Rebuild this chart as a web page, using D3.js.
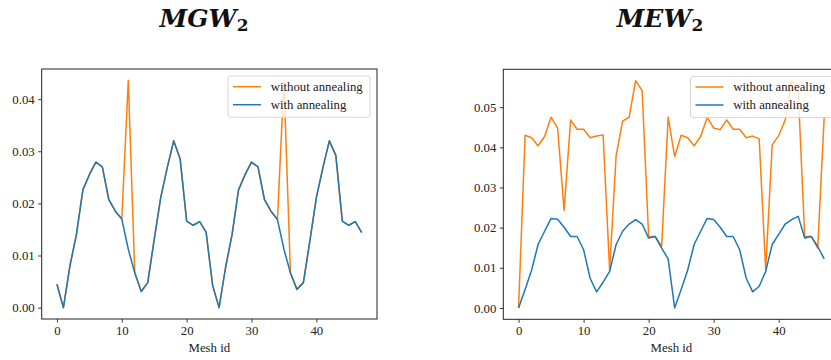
<!DOCTYPE html>
<html>
<head>
<meta charset="utf-8">
<script src="https://cdn.jsdelivr.net/npm/d3@7"></script>
<style>
  body { margin: 0; background: #fff; }
  svg { display: block; }
  .tick text { font-family: "Liberation Serif", "Times New Roman", serif; }
</style>
</head>
<body>
<div id="chart"></div>
<script>
// Mesh ids on the x axis
const meshIds = [
  0, 1, 2, 3, 4, 5, 6, 7, 8, 9, 10, 11, 12, 13, 14, 15, 16, 17, 18, 19, 20, 21, 22, 23,
  24, 25, 26, 27, 28, 29, 30, 31, 32, 33, 34, 35, 36, 37, 38, 39, 40, 41, 42, 43, 44, 45, 46, 47,
];

// MGW_2 panel
const mgwWithout = [
  0.0045, 0.0, 0.008, 0.014, 0.0226, 0.0255, 0.0279, 0.027, 0.0207, 0.0185, 0.017, 0.0436,
  0.0067, 0.0031, 0.0048, 0.0131, 0.0211, 0.0268, 0.032, 0.0285, 0.0166, 0.0158, 0.0165, 0.0145,
  0.0043, 0.0, 0.0077, 0.014, 0.0226, 0.0255, 0.0279, 0.027, 0.0207, 0.0185, 0.0169, 0.0436,
  0.0067, 0.0035, 0.0048, 0.0128, 0.0211, 0.0268, 0.032, 0.0292, 0.0166, 0.0158, 0.0165, 0.0144,
];
const mgwWith = [
  0.0045, 0.0, 0.008, 0.014, 0.0226, 0.0255, 0.0279, 0.027, 0.0207, 0.0185, 0.017, 0.0112,
  0.0067, 0.0031, 0.0048, 0.0131, 0.0211, 0.0268, 0.032, 0.0285, 0.0166, 0.0158, 0.0165, 0.0145,
  0.0043, 0.0, 0.0077, 0.014, 0.0226, 0.0255, 0.0279, 0.027, 0.0207, 0.0185, 0.0169, 0.0112,
  0.0067, 0.0035, 0.0048, 0.0128, 0.0211, 0.0268, 0.032, 0.0292, 0.0166, 0.0158, 0.0165, 0.0144,
];

// MEW_2 panel
const mewWithout = [
  0.0, 0.043, 0.0424, 0.0404, 0.0427, 0.0475, 0.0448, 0.0243, 0.0468, 0.0445, 0.0445, 0.0424,
  0.0428, 0.0431, 0.0095, 0.0379, 0.0465, 0.0475, 0.0566, 0.0541, 0.0178, 0.0178, 0.0153, 0.0475,
  0.0377, 0.043, 0.0424, 0.0404, 0.0427, 0.0475, 0.0448, 0.0444, 0.0468, 0.0445, 0.0445, 0.0424,
  0.0428, 0.0421, 0.0095, 0.0406, 0.0429, 0.0468, 0.0566, 0.0541, 0.0178, 0.0178, 0.0149, 0.0476,
];
const mewWith = [
  0.0, 0.0046, 0.0094, 0.0158, 0.0191, 0.0223, 0.0221, 0.0201, 0.0178, 0.0178, 0.0145, 0.0074,
  0.004, 0.0064, 0.0091, 0.0158, 0.0191, 0.0209, 0.022, 0.0209, 0.0174, 0.0178, 0.0149, 0.0122,
  0.0, 0.0046, 0.0094, 0.0158, 0.0191, 0.0223, 0.022, 0.0201, 0.0178, 0.0178, 0.0145, 0.0074,
  0.004, 0.0054, 0.0091, 0.0158, 0.0183, 0.0209, 0.022, 0.0228, 0.0174, 0.0178, 0.0153, 0.0122,
];

const xTicks = [0, 10, 20, 30, 40];
const mgwTicks = [0.0, 0.01, 0.02, 0.03, 0.04];
const mewTicks = [0.0, 0.01, 0.02, 0.03, 0.04, 0.05];
const seriesNames = ["without annealing", "with annealing"];
const seriesColors = ["#ff7f0e", "#1f77b4"];

class MeshErrorChart {
  constructor() {
    this.width = 831;
    this.height = 360;
    this.font = "'Liberation Serif', 'Times New Roman', serif";

    this.svg = d3
      .select("#chart")
      .append("svg")
      .attr("width", this.width)
      .attr("height", this.height)
      .style("background-color", "#ffffff");

    this.drawPanel({
      left: 41.7, right: 377, top: 69, bottom: 319,
      titleX: 204, name: "MGW",
      series: [mgwWithout, mgwWith], yTicks: mgwTicks,
    });
    this.drawPanel({
      left: 503.3, right: 839.5, top: 69.3, bottom: 319.3,
      titleX: 660, name: "MEW",
      series: [mewWithout, mewWith], yTicks: mewTicks,
    });
  }

  drawPanel(p) {
    const g = this.svg.append("g");

    // matplotlib style 5% padding around the data
    const xPad = (d3.max(meshIds) - d3.min(meshIds)) * 0.05;
    const allY = p.series.flat();
    const yPad = (d3.max(allY) - d3.min(allY)) * 0.05;

    const x = d3
      .scaleLinear()
      .domain([d3.min(meshIds) - xPad, d3.max(meshIds) + xPad])
      .range([p.left, p.right]);
    const y = d3
      .scaleLinear()
      .domain([d3.min(allY) - yPad, d3.max(allY) + yPad])
      .range([p.bottom, p.top]);

    // Lines, orange first so blue sits on top
    const line = d3
      .line()
      .x((d, i) => x(meshIds[i]))
      .y((d) => y(d));

    p.series.forEach((values, k) => {
      g.append("path")
        .datum(values)
        .attr("d", line)
        .attr("fill", "none")
        .attr("stroke", seriesColors[k])
        .attr("stroke-width", 1.5)
        .attr("stroke-linejoin", "round");
    });

    // Axes
    const xAxis = d3
      .axisBottom(x)
      .tickValues(xTicks)
      .tickSizeOuter(0)
      .tickSize(3.5)
      .tickPadding(3)
      .tickFormat(d3.format("d"));
    const yAxis = d3
      .axisLeft(y)
      .tickValues(p.yTicks)
      .tickSizeOuter(0)
      .tickSize(3.5)
      .tickPadding(3.5)
      .tickFormat(d3.format(".2f"));

    const gx = g
      .append("g")
      .attr("transform", `translate(0, ${p.bottom})`)
      .call(xAxis);
    const gy = g
      .append("g")
      .attr("transform", `translate(${p.left}, 0)`)
      .call(yAxis);

    [gx, gy].forEach((a) => {
      a.select(".domain").remove();
      a.selectAll(".tick line").attr("stroke", "#222").attr("stroke-width", 0.9);
      a.selectAll(".tick text")
        .attr("fill", "#222")
        .style("font-size", "12.8px");
    });

    // Frame
    g.append("rect")
      .attr("x", p.left)
      .attr("y", p.top)
      .attr("width", p.right - p.left)
      .attr("height", p.bottom - p.top)
      .attr("fill", "none")
      .attr("stroke", "#222")
      .attr("stroke-width", 1);

    // X label
    g.append("text")
      .attr("x", (p.left + p.right) / 2)
      .attr("y", 352)
      .attr("text-anchor", "middle")
      .attr("font-family", this.font)
      .attr("font-size", "12.8px")
      .attr("fill", "#222")
      .text("Mesh id");

    // Title
    const title = g
      .append("text")
      .attr("x", p.titleX)
      .attr("y", 27)
      .attr("text-anchor", "middle")
      .attr("font-family", "'DejaVu Serif', serif")
      .attr("font-weight", "bold")
      .attr("font-style", "italic")
      .attr("font-size", "25px")
      .attr("fill", "#111");
    title.append("tspan").text(p.name);
    title
      .append("tspan")
      .attr("dy", 4)
      .attr("font-size", "17px")
      .attr("font-style", "normal")
      .text("2");

    // Legend
    const lx = p.right - 149;
    const ly = p.top + 7;
    const legend = g.append("g");
    legend
      .append("rect")
      .attr("x", lx)
      .attr("y", ly)
      .attr("width", 142)
      .attr("height", 41.3)
      .attr("rx", 2.5)
      .attr("fill", "#fff")
      .attr("fill-opacity", 0.8)
      .attr("stroke", "#d6d6d6")
      .attr("stroke-width", 1);

    seriesNames.forEach((name, k) => {
      const cy = ly + 10.7 + k * 18;
      legend
        .append("line")
        .attr("x1", lx + 5)
        .attr("x2", lx + 33)
        .attr("y1", cy)
        .attr("y2", cy)
        .attr("stroke", seriesColors[k])
        .attr("stroke-width", 1.5);
      legend
        .append("text")
        .attr("x", lx + 42.7)
        .attr("y", cy + 4.3)
        .attr("font-family", this.font)
        .attr("font-size", "12.8px")
        .attr("fill", "#222")
        .text(name);
    });
  }
}

new MeshErrorChart();
</script>
</body>
</html>
